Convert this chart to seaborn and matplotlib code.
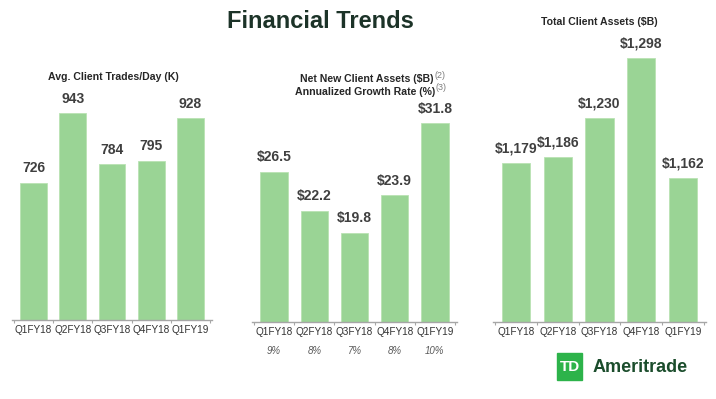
import matplotlib
matplotlib.use("Agg")
import matplotlib.pyplot as plt
from matplotlib.patches import Rectangle
import seaborn as sns

# data
quarters = ["Q1FY18", "Q2FY18", "Q3FY18", "Q4FY18", "Q1FY19"]
trades_per_day = [726, 943, 784, 795, 928]
net_new_assets = [26.5, 22.2, 19.8, 23.9, 31.8]
growth_rate = [9, 8, 7, 8, 10]
total_assets = [1179, 1186, 1230, 1298, 1162]

sns.set_theme(style="white")
plt.rcParams["font.family"] = ["Liberation Sans", "DejaVu Sans"]

W, H = 716, 399
BAR = "#9ad495"
TXT = "#3f3f3f"
AXC = "#a6a6a6"

fig = plt.figure(figsize=(W / 100, H / 100), dpi=100)


def px_axes(left, right, bottom, top):
    return fig.add_axes([left / W, 1 - bottom / H, (right - left) / W, (bottom - top) / H])


def panel(ax, values, ylim, labels):
    sns.barplot(x=quarters, y=values, color=BAR, saturation=1, width=0.68,
                edgecolor="#b9e3b3", linewidth=0.6, ax=ax)
    ax.set_ylim(*ylim)
    ax.set_xlim(-0.55, 4.55)
    for s in ["top", "right", "left"]:
        ax.spines[s].set_visible(False)
    ax.spines["bottom"].set_color(AXC)
    ax.spines["bottom"].set_linewidth(1.0)
    ax.set_yticks([])
    ax.set_xlabel("")
    ax.set_ylabel("")
    ax.set_xticks([-0.5 + i for i in range(6)], minor=True)
    ax.tick_params(axis="x", which="major", length=0, pad=3.5, labelsize=7.2, labelcolor="#333333")
    ax.tick_params(axis="x", which="minor", length=2.5, width=0.8, color=AXC, direction="out", bottom=True)
    for i, (v, lab) in enumerate(zip(values, labels)):
        ax.annotate(lab, xy=(i, v), xytext=(0, 5.5), textcoords="offset points",
                    ha="center", va="bottom", fontsize=10, fontweight="bold",
                    color=TXT, annotation_clip=False)


# panel 1
ax1 = px_axes(12, 212, 320, 95)
panel(ax1, trades_per_day, (300, 1000), [f"{v}" for v in trades_per_day])
fig.text(113 / W, 1 - 77 / H, "Avg. Client Trades/Day (K)", ha="center", va="center",
         fontsize=7.6, fontweight="bold", color="#262626")

# panel 2
ax2 = px_axes(252, 457, 322, 94)
panel(ax2, net_new_assets, (10, 35), [f"\\${v:.1f}" for v in net_new_assets])
for i, g in enumerate(growth_rate):
    ax2.annotate(f"{g}%", xy=(i, 0), xycoords=("data", "axes fraction"),
                 xytext=(0, -21), textcoords="offset points", ha="center", va="center",
                 fontsize=7, fontstyle="italic", color="#595959")
fig.text(433 / W, 1 - 79 / H, "Net New Client Assets (\\$B)", ha="right", va="center",
         fontsize=7.6, fontweight="bold", color="#262626")
fig.text(434 / W, 1 - 75 / H, "(2)", ha="left", va="center", fontsize=6.5, color="#7f7f7f")
fig.text(435 / W, 1 - 92 / H, "Annualized Growth Rate (%)", ha="right", va="center",
         fontsize=7.6, fontweight="bold", color="#262626")
fig.text(436 / W, 1 - 88 / H, "(3)", ha="left", va="center", fontsize=6.5, color="#7f7f7f")

# panel 3
ax3 = px_axes(493, 706, 322, 56)
panel(ax3, total_assets, (1000, 1300), [f"\\${v:,}" for v in total_assets])
fig.text(599 / W, 1 - 22 / H, "Total Client Assets (\\$B)", ha="center", va="center",
         fontsize=7.6, fontweight="bold", color="#262626")

# slide title
fig.text(320 / W, 1 - 21 / H, "Financial Trends", ha="center", va="center",
         fontsize=17, fontweight="bold", color="#1c3328")

# logo
fig.patches.append(Rectangle((557 / W, 1 - 380 / H), 25 / W, 27 / H,
                             transform=fig.transFigure, color="#2db34a", zorder=3))
fig.text(569.5 / W, 1 - 367 / H, "TD", ha="center", va="center", fontsize=11,
         fontweight="bold", color="white", zorder=4)
fig.text(593 / W, 1 - 367 / H, "Ameritrade", ha="left", va="center", fontsize=13,
         fontweight="bold", color="#1b4d2c")

fig.savefig("out.png", dpi=100)
